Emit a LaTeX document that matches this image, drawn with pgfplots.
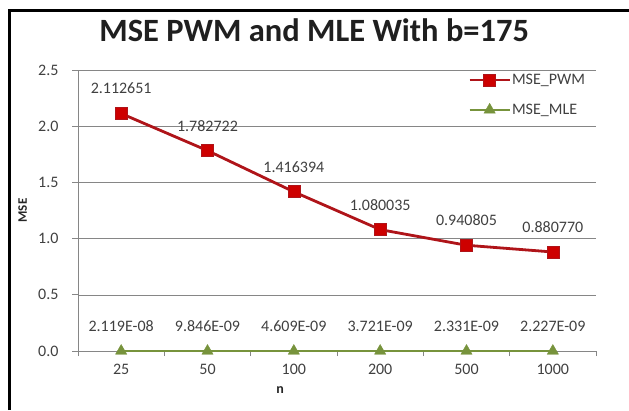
\documentclass[border=0pt]{standalone}
\usepackage{fontspec}
\setmainfont{Carlito}
\usepackage{pgfplots}
\usepackage{pgfplotstable}
\pgfplotsset{compat=1.18}
\definecolor{pwmline}{RGB}{175,20,25}
\definecolor{pwmfill}{RGB}{205,0,0}
\definecolor{mlegreen}{RGB}{119,147,60}
\definecolor{axgray}{RGB}{134,134,134}
\definecolor{txtgray}{RGB}{64,64,64}
\pgfplotstableread{
x y lab
0 2.112651 2.112651
1 1.782722 1.782722
2 1.416394 1.416394
3 1.080035 1.080035
4 0.940805 0.940805
5 0.880770 0.880770
}\pwm
\pgfplotstableread{
x y lab
0 2.119e-08 2.119E-08
1 9.846e-09 9.846E-09
2 4.609e-09 4.609E-09
3 3.721e-09 3.721E-09
4 2.331e-09 2.331E-09
5 2.227e-09 2.227E-09
}\mle
\begin{document}
\begin{tikzpicture}[x=1pt,y=1pt]
\useasboundingbox (0,0) rectangle (629,410);
\draw[line width=3pt,black] (9,0) -- (9,399) -- (629,399);
\begin{axis}[
  at={(78pt,59pt)}, anchor=south west,
  scale only axis, width=518pt, height=281pt,
  xmin=-0.5, xmax=5.5, ymin=0, ymax=2.5,
  xtick={0,1,2,3,4,5},
  xticklabels={25,50,100,200,500,1000},
  minor xtick={-0.5,0.5,1.5,2.5,3.5,4.5,5.5},
  ytick={0,0.5,1,1.5,2,2.5},
  y tick label style={/pgf/number format/fixed, /pgf/number format/fixed zerofill, /pgf/number format/precision=1, xshift=-10pt},
  /pgf/number format/assume math mode=true,
  axis x line*=bottom, axis y line*=left,
  axis line style={axgray, line width=0.8pt},
  x axis line style={-}, y axis line style={-},
  tick align=outside,
  major tick length=6pt, minor tick length=5pt,
  x tick style={draw=none},
  minor x tick style={draw=axgray, line width=0.8pt},
  y tick style={draw=axgray, line width=0.8pt},
  ymajorgrids, grid style={axgray, line width=0.6pt},
  tick label style={font=\fontsize{16}{18}\selectfont, text=txtgray},
  x tick label style={yshift=-4pt},
  title={\fontsize{32.5}{36}\selectfont\bfseries MSE PWM and MLE With b=175},
  title style={at={(axis description cs:0.456,1.12)}, anchor=center, text=black!88},
  xlabel={\fontsize{14}{16}\selectfont\bfseries n},
  xlabel style={at={(axis description cs:0.39,-0.139)}, anchor=center, text=black!85},
  ylabel={\fontsize{13}{15}\selectfont\bfseries MSE},
  ylabel style={at={(axis description cs:-0.107,0.5)}, anchor=center, rotate=0, text=black!85},
  legend style={at={(axis description cs:0.753,0.99)}, anchor=north west,
    draw=none, fill=none, inner sep=0pt, row sep=16pt,
    font=\fontsize{16}{18}\selectfont, text=txtgray,
    nodes={inner xsep=1pt, inner ysep=1pt}},
  legend cell align=left,
  legend image code/.code={
    \draw[mark repeat=2,mark phase=2] plot coordinates {(0pt,0pt) (20pt,0pt) (40pt,0pt)};},
  nodes near coords,
  point meta=explicit symbolic,
  every node near coord/.append style={font=\fontsize{16}{18}\selectfont, text=txtgray, anchor=center, yshift=25pt},
  clip=false,
]
\addplot[pwmline, line width=2.8pt, mark=square*, mark size=6pt,
  mark options={fill=pwmfill, draw=pwmline, line width=0.6pt}]
  table[x=x,y=y,meta=lab] {\pwm};
\addlegendentry{MSE\_PWM}
\addplot[mlegreen, line width=2.4pt, mark=triangle*, mark size=6.5pt,
  mark options={fill=mlegreen, draw=mlegreen, line width=0.4pt}]
  table[x=x,y=y,meta=lab] {\mle};
\addlegendentry{MSE\_MLE}
\end{axis}
\end{tikzpicture}
\end{document}
